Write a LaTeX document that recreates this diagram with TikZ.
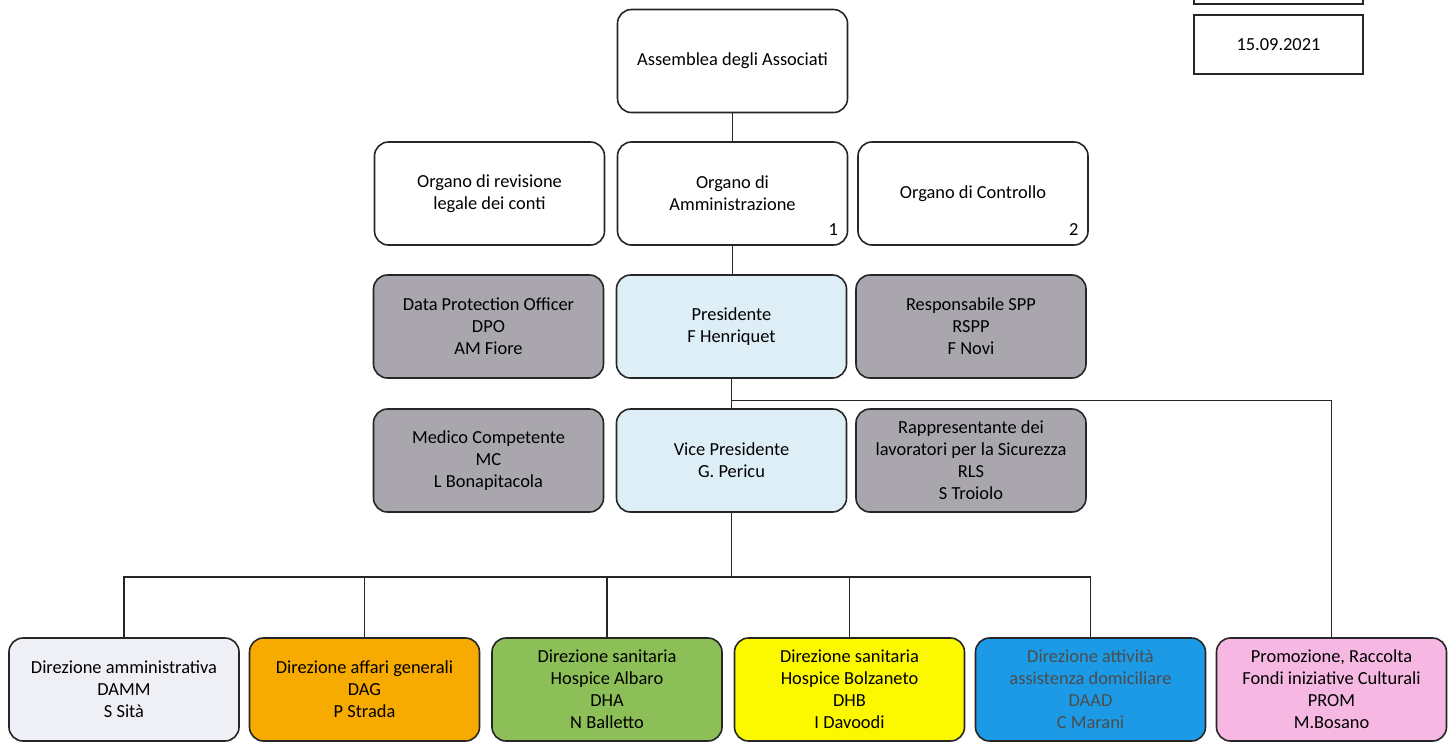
\documentclass[tikz,border=0pt]{standalone}
\usepackage{fontspec}
\setmainfont{Carlito}
\usepackage{tikz}
\usetikzlibrary{positioning,calc}
\usepackage{xcolor}
\definecolor{staffgray}{HTML}{A9A7AD}
\definecolor{presblue}{HTML}{DDEEF7}
\definecolor{dammcol}{HTML}{EFEFF6}
\definecolor{dagcol}{HTML}{F7AB00}
\definecolor{dhacol}{HTML}{8CBF57}
\definecolor{dhbcol}{HTML}{FCF800}
\definecolor{daadcol}{HTML}{1C9AE6}
\definecolor{promcol}{HTML}{F6B8E2}
\tikzset{
  orgbox/.style   = {draw=black!85, line width=0.8pt, rounded corners=7pt,
                     minimum width=115pt, minimum height=51.5pt, align=center,
                     inner sep=2pt},
  staffbox/.style = {orgbox, fill=staffgray},
  presbox/.style  = {orgbox, fill=presblue},
  dirbox/.style   = {orgbox, fill=#1},
  datebox/.style  = {draw=black!85, line width=0.7pt, minimum width=84.5pt,
                     minimum height=29.5pt},
  conn/.style     = {draw=black!85, line width=0.7pt},
}
\begin{document}
\begin{tikzpicture}[x=0.5pt,y=0.5pt,font=\fontsize{9.2}{11}\selectfont]
\useasboundingbox (0,0) rectangle (1452,-741);
% top right
\draw[line width=0.7pt,draw=black!85] (1194,-4) rectangle (1363,40);
\node[datebox] (data) at (1278.5,-44.5) {15.09.2021};
% organi
\node[orgbox] (assemblea) at (732.5,-61) {Assemblea degli Associati};
\node[orgbox] (revisione) at (489.5,-193.5) {Organo di revisione\\legale dei conti};
\node[orgbox] (ammin) at (732.5,-193.5) {Organo di\\Amministrazione};
\node[orgbox] (controllo) at (973,-193.5) {Organo di Controllo};
\node[anchor=south east,inner sep=0pt] (nota1) at ([xshift=-5pt,yshift=5pt]ammin.south east) {1};
\node[anchor=south east,inner sep=0pt] (nota2) at ([xshift=-5pt,yshift=5pt]controllo.south east) {2};
% presidenza e staff
\node[staffbox] (dpo) at (488.5,-326.5) {Data Protection Officer\\DPO\\AM Fiore};
\node[presbox] (pres) at (731.5,-326.5) {Presidente\\F Henriquet};
\node[staffbox] (rspp) at (971,-326.5) {Responsabile SPP\\RSPP\\F Novi};
\node[staffbox] (medico) at (488.5,-460.5) {Medico Competente\\MC\\L Bonapitacola};
\node[presbox] (vice) at (731.5,-460.5) {Vice Presidente\\G. Pericu};
\node[staffbox] (rls) at (971,-460.5) {Rappresentante dei\\lavoratori per la Sicurezza\\RLS\\S Troiolo};
% direzioni
\node[dirbox=dammcol] (damm) at (124,-689.5) {Direzione amministrativa\\DAMM\\S Sità};
\node[dirbox=dagcol] (dag) at (364.5,-689.5) {Direzione affari generali\\DAG\\P Strada};
\node[dirbox=dhacol] (dha) at (607,-689.5) {Direzione sanitaria\\Hospice Albaro\\DHA\\N Balletto};
\node[dirbox=dhbcol] (dhb) at (849.5,-689.5) {Direzione sanitaria\\Hospice Bolzaneto\\DHB\\I Davoodi};
\node[dirbox=daadcol,text=black!70] (daad) at (1090.5,-689.5) {Direzione attività\\assistenza domiciliare\\DAAD\\C Marani};
\node[dirbox=promcol] (prom) at (1331.5,-689.5) {Promozione, Raccolta\\Fondi iniziative Culturali\\PROM\\M.Bosano};
% collegamenti
\draw[conn] (assemblea.south) -- (assemblea.south |- ammin.north);
\draw[conn] (ammin.south) -- (ammin.south |- pres.north);
\draw[conn] (pres) -- (vice);
\coordinate (ramo) at ([yshift=-3.5pt]$(pres.south)!0.5!(vice.north)$);
\draw[conn] (ramo) -| (prom.north);
\coordinate (bus) at ([yshift=-32pt]vice.south);
\draw[conn] (vice.south) -- (bus);
\foreach \d in {damm,dag,dha,dhb,daad}
  \draw[conn] (bus) -| (\d.north);
\end{tikzpicture}
\end{document}
